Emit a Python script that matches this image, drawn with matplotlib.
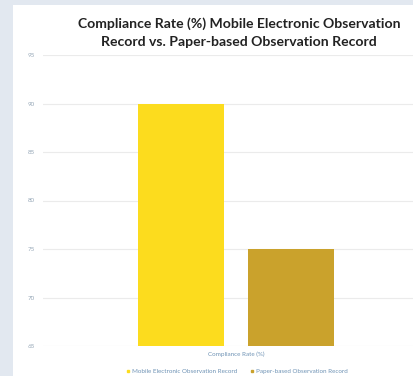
import matplotlib
matplotlib.use("Agg")
import matplotlib.pyplot as plt
from matplotlib.patches import Rectangle
from matplotlib.lines import Line2D

# data
group_label = "Compliance Rate (%)"
series_names = ["Mobile Electronic Observation Record", "Paper-based Observation Record"]
series_values = [90, 75]
series_colors = ["#fcdc1e", "#caa22c"]
y_ticks = [65, 70, 75, 80, 85, 90, 95]

plt.rcParams['font.family'] = ['Lato', 'DejaVu Sans']

fig = plt.figure(figsize=(4.13, 3.76), dpi=100)
fig.patch.set_facecolor("#e2e8f0")
# white panel
fig.patches.append(Rectangle((13 / 413, 0), 1, 1 - 5 / 376, transform=fig.transFigure,
                             facecolor="white", edgecolor="none", zorder=-1))

ax = fig.add_axes([43 / 413, 1 - 346 / 376, 386 / 413, (346 - 55) / 376])
ax.set_facecolor("none")
ax.set_zorder(2)

centers = [0.358, 0.642]
for c, v, col in zip(centers, series_values, series_colors):
    ax.bar(c, v - y_ticks[0], bottom=y_ticks[0], width=0.223, color=col, zorder=2)

ax.set_xlim(0, 1)
ax.set_ylim(65, 95)
ax.set_yticks(y_ticks)
ax.set_yticklabels([str(t) for t in y_ticks], fontsize=4.5, color="#97a8b8")
ax.tick_params(axis="y", length=0, pad=6)
ax.set_xticks([])
ax.grid(axis="y", color="#ebebeb", linewidth=0.8, zorder=0)
for s in ax.spines.values():
    s.set_visible(False)

fig.text(236 / 413, 1 - 354 / 376, group_label, fontsize=4.5, color="#6f93b5",
         ha="center", va="center", zorder=3)

fig.text(239 / 413, 1 - 33 / 376,
         "Compliance Rate (%) Mobile Electronic Observation\nRecord vs. Paper-based Observation Record",
         fontsize=10.1, fontweight="bold", color="#222222", ha="center", va="center",
         linespacing=1.6, zorder=3)

handles = [Line2D([], [], marker="s", linestyle="none", markersize=1.8, color=c) for c in series_colors]
leg = fig.legend(handles, series_names, loc="center", bbox_to_anchor=(236 / 413, 1 - 371 / 376),
                 ncol=2, frameon=False, fontsize=4.5, labelcolor="#6f93b5",
                 handletextpad=0.1, columnspacing=1.9, handlelength=1.0)
leg.set_zorder(3)

fig.savefig("out.png", dpi=100, facecolor=fig.get_facecolor())
